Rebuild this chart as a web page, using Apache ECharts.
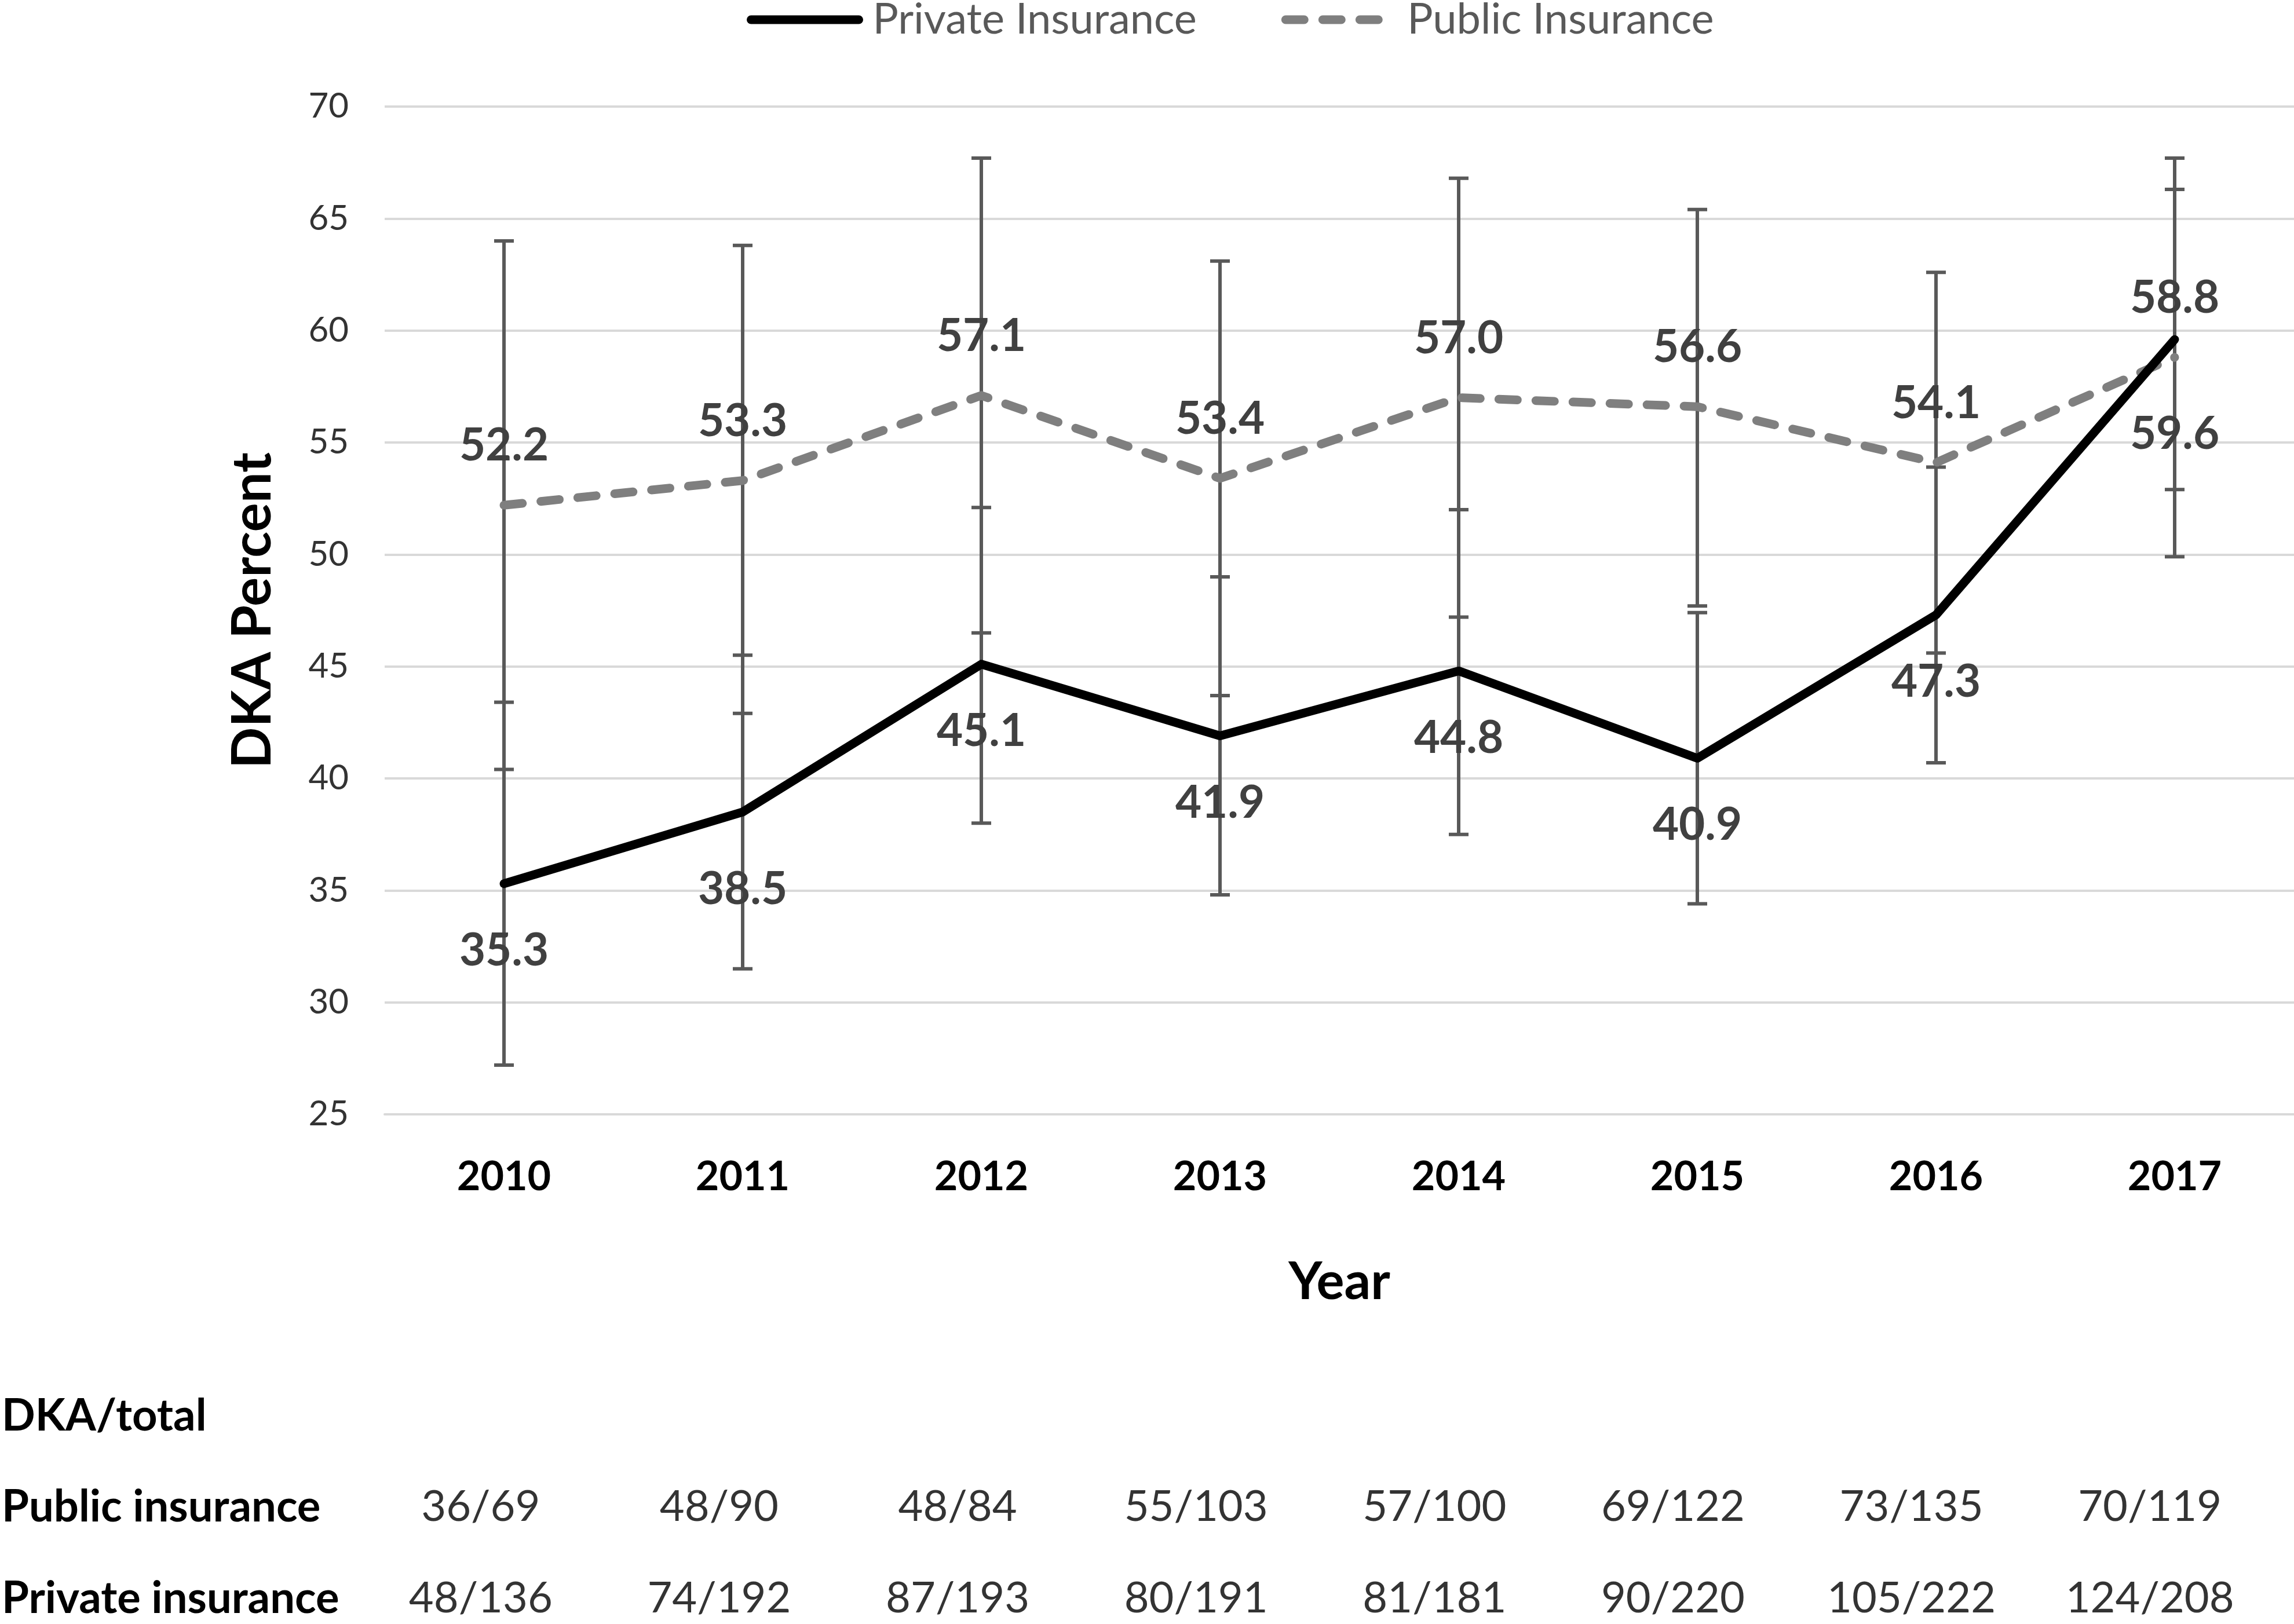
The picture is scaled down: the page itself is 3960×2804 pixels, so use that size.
<!DOCTYPE html>
<html>
<head>
<meta charset="utf-8">
<script src="https://cdn.jsdelivr.net/npm/echarts@6/dist/echarts.min.js"></script>
<style>
  html, body { margin: 0; padding: 0; background: #fff; }
  #chart { width: 3960px; height: 2804px; }
</style>
</head>
<body>
<div id="chart"></div>
<script>
// ---- data ----
const years = ['2010', '2011', '2012', '2013', '2014', '2015', '2016', '2017'];
const privateValues = [35.3, 38.5, 45.1, 41.9, 44.8, 40.9, 47.3, 59.6];
const publicValues  = [52.2, 53.3, 57.1, 53.4, 57.0, 56.6, 54.1, 58.8];
const privateLow  = [27.2, 31.5, 38.0, 34.8, 37.5, 34.4, 40.7, 52.9];
const privateHigh = [43.4, 45.5, 52.1, 49.0, 52.0, 47.4, 53.9, 66.3];
const publicLow   = [40.4, 42.9, 46.5, 43.7, 47.2, 47.7, 45.6, 49.9];
const publicHigh  = [64.0, 63.8, 67.7, 63.1, 66.8, 65.4, 62.6, 67.7];
const yTicks = [25, 30, 35, 40, 45, 50, 55, 60, 65, 70];
const tableRows = ['DKA/total', 'Public insurance', 'Private insurance'];
const publicCounts  = ['36/69', '48/90', '48/84', '55/103', '57/100', '69/122', '73/135', '70/119'];
const privateCounts = ['48/136', '74/192', '87/193', '80/191', '81/181', '90/220', '105/222', '124/208'];

const FONT = 'Lato';
const chart = echarts.init(document.getElementById('chart'), null, { renderer: 'canvas' });

function errorBars(low, high) {
  return years.map((y, i) => [i, low[i], high[i]]);
}
function renderErr(params, api) {
  const x = api.value(0);
  const lo = api.coord([x, api.value(1)]);
  const hi = api.coord([x, api.value(2)]);
  const cap = 17;
  const style = { stroke: '#595959', lineWidth: 6 };
  return {
    type: 'group',
    children: [
      { type: 'line', shape: { x1: lo[0], y1: lo[1], x2: hi[0], y2: hi[1] }, style },
      { type: 'line', shape: { x1: lo[0] - cap, y1: lo[1], x2: lo[0] + cap, y2: lo[1] }, style },
      { type: 'line', shape: { x1: hi[0] - cap, y1: hi[1], x2: hi[0] + cap, y2: hi[1] }, style }
    ]
  };
}

const labelStyle = {
  show: true,
  fontFamily: FONT,
  fontWeight: 'bold',
  fontSize: 78,
  color: '#404040',
  formatter: p => Number(p.value).toFixed(1)
};

const privateData = privateValues.map((v, i) => {
  if (i === 7) return { value: v, label: { distance: 124, offset: [15, 0] } };
  if (i === 1) return { value: v, label: { distance: 94 } };
  return v;
});

const tableData = [];
years.forEach((y, i) => {
  tableData.push([i, 'Public insurance', publicCounts[i]]);
  tableData.push([i, 'Private insurance', privateCounts[i]]);
});

const option = {
  backgroundColor: '#ffffff',
  animation: false,
  textStyle: { fontFamily: FONT },
  legend: {
    data: [
      { name: 'Private Insurance',
        itemStyle: { opacity: 0 },
        lineStyle: { color: '#000000', width: 15, type: 'solid', cap: 'round' } },
      { name: 'Public Insurance',
        itemStyle: { opacity: 0 },
        lineStyle: { color: '#7f7f7f', width: 15, type: [32, 32], cap: 'round' } }
    ],
    formatter: name => ' ' + name,
    left: 1284,
    top: -8,
    itemWidth: 186,
    itemHeight: 20,
    itemGap: 146,
    textStyle: { fontFamily: FONT, fontSize: 74, color: '#595959' }
  },
  grid: [
    { left: 664, right: 0, top: 184, bottom: 880, containLabel: false },
    { left: 621, right: 43, top: 2445, bottom: 44, containLabel: false }
  ],
  xAxis: [
    {
      type: 'category',
      gridIndex: 0,
      data: years,
      boundaryGap: true,
      axisLine: { show: true, lineStyle: { color: '#d9d9d9', width: 4 } },
      axisTick: { show: false },
      axisLabel: { fontFamily: FONT, fontWeight: 'bold', fontSize: 70, color: '#000', margin: 73 },
      name: 'Year',
      nameLocation: 'middle',
      nameGap: 245,
      nameTextStyle: { fontFamily: FONT, fontWeight: 'bold', fontSize: 90, color: '#000' }
    },
    {
      type: 'category',
      gridIndex: 1,
      data: years,
      boundaryGap: true,
      show: false
    }
  ],
  yAxis: [
    {
      type: 'value',
      gridIndex: 0,
      min: 25,
      max: 70,
      interval: 5,
      axisLine: { show: false },
      axisTick: { show: false },
      splitLine: { show: true, lineStyle: { color: '#d9d9d9', width: 4 } },
      axisLabel: { fontFamily: FONT, fontSize: 60, color: '#333', margin: 62,
        formatter: v => (yTicks.indexOf(v) >= 0 ? String(v) : '') },
      name: 'DKA Percent',
      nameLocation: 'middle',
      nameGap: 180,
      nameRotate: 90,
      nameTextStyle: { fontFamily: FONT, fontWeight: 'bold', fontSize: 94, color: '#000' }
    },
    {
      type: 'category',
      gridIndex: 1,
      data: tableRows,
      inverse: true,
      boundaryGap: false,
      axisLine: { show: false },
      axisTick: { show: false },
      splitLine: { show: false },
      axisLabel: { fontFamily: FONT, fontWeight: 'bold', fontSize: 76, color: '#000', align: 'left', margin: 621 }
    }
  ],
  series: [
    {
      name: 'Public Insurance error',
      type: 'custom',
      xAxisIndex: 0, yAxisIndex: 0,
      renderItem: renderErr,
      data: errorBars(publicLow, publicHigh),
      z: 1, silent: true
    },
    {
      name: 'Private Insurance error',
      type: 'custom',
      xAxisIndex: 0, yAxisIndex: 0,
      renderItem: renderErr,
      data: errorBars(privateLow, privateHigh),
      z: 1, silent: true
    },
    {
      name: 'Public Insurance',
      type: 'line',
      xAxisIndex: 0, yAxisIndex: 0,
      data: publicValues,
      symbol: 'circle',
      symbolSize: 2,
      showSymbol: true,
      color: '#7f7f7f',
      itemStyle: { color: '#7f7f7f' },
      lineStyle: { color: '#7f7f7f', width: 15, type: [32, 32], cap: 'round', join: 'round' },
      label: Object.assign({}, labelStyle, { position: 'top', distance: 62 }),
      labelLayout: { hideOverlap: false },
      z: 3
    },
    {
      name: 'Private Insurance',
      type: 'line',
      xAxisIndex: 0, yAxisIndex: 0,
      data: privateData,
      symbol: 'circle',
      symbolSize: 2,
      showSymbol: true,
      color: '#000000',
      itemStyle: { color: '#000000' },
      lineStyle: { color: '#000000', width: 15, cap: 'round', join: 'round' },
      label: Object.assign({}, labelStyle, { position: 'bottom', distance: 76 }),
      labelLayout: { hideOverlap: false },
      z: 4
    },
    {
      name: 'table',
      type: 'scatter',
      xAxisIndex: 1, yAxisIndex: 1,
      data: tableData,
      symbolSize: 0,
      silent: true,
      label: {
        show: true,
        position: 'inside',
        fontFamily: FONT,
        fontSize: 74,
        color: '#000',
        formatter: p => p.value[2]
      }
    }
  ]
};
chart.setOption(option);
</script>
</body>
</html>
